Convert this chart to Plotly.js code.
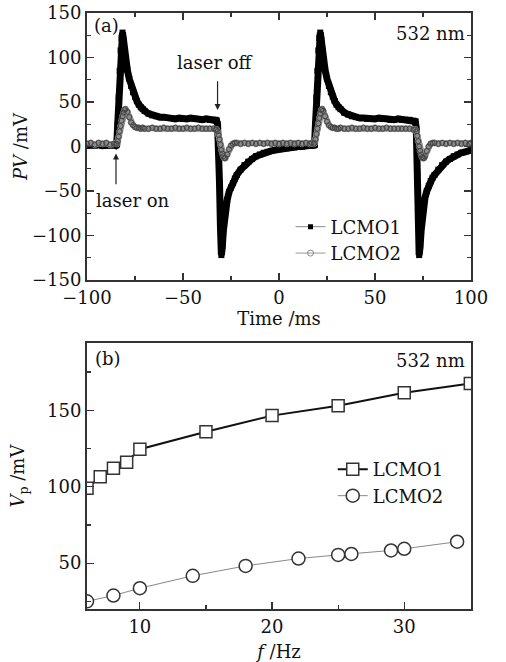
<!DOCTYPE html>
<html>
<head>
<meta charset="utf-8">
<script src="https://cdn.plot.ly/plotly-3.0.1.min.js"></script>
<style>html,body{margin:0;padding:0;background:#fff;}#chart{width:506px;height:662px;}</style>
</head>
<body>
<div id="chart"></div>
<script>
// ---------- Panel (a): photovoltage vs time ----------
const timeMs = [
-100,-98,-96,-94,-92,-90,-88,-86,-85,-84.5,
-84,-83.5,-83,-82.5,-82,-81.5,-81,-80.5,-80,-79,
-78,-77,-76,-75,-74,-73,-72,-71,-70,-68,
-66,-64,-62,-60,-58,-56,-54,-52,-50,-48,
-46,-44,-42,-40,-38,-36,-34,-33,-32.5,-32,
-31.5,-31,-30.5,-30,-29.5,-29,-28.5,-28,-27,-26,
-25,-24,-23,-22,-20,-18,-16,-14,-12,-10,
-8,-6,-4,-2,0,2,4,6,8,10,
12,14,16,17,18,18.5,19,19.5,20,20.5,
21,21.5,22,22.5,23,24,25,26,27,28,
29,30,31,32,34,36,38,40,42,44,
46,48,50,52,54,56,58,60,62,64,
66,68,70,71,71.5,72,72.5,73,73.5,74,
74.5,75,75.5,76,77,78,79,80,81,83,
85,87,89,91,93,95,97,99,100
];
const pvLCMO1 = [
1,2,1,2,1,2,1,2,1,2,
25,55,85,108,122,128,120,108,98,86,
76,68,61,56,51,47,44,42,40,37,
35,34,33,33,32,32,31,32,31,31,
32,31,31,30,31,30,30,30,29,25,
5,-40,-90,-122,-112,-95,-82,-72,-60,-51,
-46,-41,-36,-32,-26,-21,-17,-14,-11,-9,
-7,-6,-5,-4,-3,-2,-2,-1,-1,0,
0,1,1,1,1,2,25,55,85,108,
122,128,120,108,98,86,76,68,61,56,
51,47,44,42,38,36,34,33,32,32,
31,31,31,32,31,31,30,30,31,30,
30,30,29,28,20,-30,-85,-122,-112,-95,
-82,-72,-64,-58,-50,-44,-39,-35,-32,-26,
-21,-17,-14,-11,-9,-7,-6,-5,-4
];
const pvLCMO2 = [
3,4,2,4,3,4,2,3,3,3,
6,11,17,23,29,34,38,41,42,39,
33,27,24,22,21,21,20,21,20,20,
21,20,20,21,20,20,21,20,20,21,
20,20,21,20,20,20,20,19,19,17,
13,8,2,-4,-8,-11,-13,-13,-9,-3,
1,3,4,4,3,4,3,4,3,4,
3,4,3,4,3,4,3,4,3,4,
3,4,3,4,3,4,8,14,20,26,
32,37,41,42,40,34,28,24,22,21,
21,20,20,21,20,20,21,20,20,21,
20,20,21,20,20,21,20,20,20,20,
20,20,19,19,17,12,6,0,-5,-9,
-12,-13,-13,-11,-5,0,3,4,4,3,
4,3,4,3,4,3,4,3,4
];

// ---------- Panel (b): peak voltage vs frequency ----------
const freqLCMO1 = [6,7,8,9,10,15,20,25,30,35];
const vpLCMO1   = [99,106.5,112,116,124.5,136,146.5,153,161.5,167.5];
const freqLCMO2 = [6,8,10,14,18,22,25,26,29,30,34];
const vpLCMO2   = [25,28.8,33.6,41.7,48.2,53,55.4,56,58.3,59.4,64];

const seriesNames = ['LCMO1','LCMO2'];
const panelLabels = ['(a)','(b)'];
const wavelengthLabel = '532 nm';

const FONT = '"DejaVu Serif", serif';
const txt = {family: FONT, size: 18, color: '#111'};

const traces = [
  {x: timeMs, y: pvLCMO1, mode: 'lines+markers', name: seriesNames[0], xaxis: 'x', yaxis: 'y',
   line: {color: '#888', width: 1}, marker: {symbol: 'square', size: 5, color: '#000'},
   legend: 'legend'},
  {x: timeMs, y: pvLCMO1, mode: 'lines+markers', showlegend: false, xaxis: 'x', yaxis: 'y',
   line: {color: '#000', width: 7}, marker: {symbol: 'square', size: 6, color: '#000'}},
  {x: timeMs, y: pvLCMO2, mode: 'lines+markers', name: seriesNames[1], xaxis: 'x', yaxis: 'y',
   line: {color: '#999', width: 1}, marker: {symbol: 'circle-open', size: 6, color: '#888', line: {width: 1}},
   legend: 'legend'},
  {x: timeMs, y: pvLCMO2, mode: 'lines+markers', showlegend: false, xaxis: 'x', yaxis: 'y',
   line: {color: '#8e8e8e', width: 6}, marker: {symbol: 'circle-open', size: 5, color: '#444', line: {width: 1}}},
  {x: freqLCMO1, y: vpLCMO1, mode: 'lines+markers', name: seriesNames[0], xaxis: 'x2', yaxis: 'y2',
   line: {color: '#111', width: 2}, legend: 'legend2',
   marker: {symbol: 'square', size: 12, color: '#fff', line: {color: '#333', width: 1.5}}},
  {x: freqLCMO2, y: vpLCMO2, mode: 'lines+markers', name: seriesNames[1], xaxis: 'x2', yaxis: 'y2',
   line: {color: '#888', width: 1}, legend: 'legend2',
   marker: {symbol: 'circle', size: 13, color: '#fff', line: {color: '#333', width: 1.5}}}
];

const axBase = {
  showgrid: false, zeroline: false, showline: true, linecolor: '#333', linewidth: 2,
  ticks: 'inside', ticklen: 7, tickwidth: 1.2, tickcolor: '#333',
  tickfont: txt, automargin: false
};

const layout = {
  width: 506, height: 662,
  margin: {l: 87, r: 35, t: 13, b: 53},
  paper_bgcolor: '#fff', plot_bgcolor: '#fff',
  font: txt,
  xaxis: Object.assign({}, axBase, {
    domain: [0, 1], anchor: 'y', range: [-100, 100], tickvals: [-100, -50, 0, 50, 100],
    mirror: 'ticks', minor: {ticks: 'inside', dtick: 25, ticklen: 4, tickcolor: '#333'},
    title: {text: 'Time /ms', font: txt, standoff: 0}
  }),
  yaxis: Object.assign({}, axBase, {
    domain: [0.552, 1], anchor: 'x', range: [-150, 150], tickvals: [-150, -100, -50, 0, 50, 100, 150],
    mirror: 'ticks', minor: {ticks: 'inside', dtick: 25, ticklen: 4, tickcolor: '#333'},
    title: {text: '<i>PV</i> /mV', font: txt, standoff: 0}
  }),
  xaxis2: Object.assign({}, axBase, {
    domain: [0, 1], anchor: 'y2', range: [6, 35.05], tickvals: [10, 20, 30],
    mirror: true, minor: {ticks: 'inside', dtick: 5, ticklen: 4, tickcolor: '#333'},
    title: {text: '<i>f</i> /Hz', font: txt, standoff: 11}
  }),
  yaxis2: Object.assign({}, axBase, {
    domain: [0, 0.4463], anchor: 'x2', range: [20, 194], tickvals: [50, 100, 150],
    mirror: true, minor: {ticks: 'inside', dtick: 25, ticklen: 4, tickcolor: '#333'},
    title: {text: '<i>V</i><sub>p</sub> /mV', font: txt, standoff: 18}
  }),
  legend: {x: 0.53, y: 0.672, xanchor: 'left', yanchor: 'top', bgcolor: 'rgba(0,0,0,0)',
           font: txt, tracegroupgap: 0, itemwidth: 30},
  legend2: {x: 0.64, y: 0.265, xanchor: 'left', yanchor: 'top', bgcolor: 'rgba(0,0,0,0)',
            font: txt, tracegroupgap: 0, itemwidth: 30},
  showlegend: true,
  annotations: [
    {xref: 'x domain', yref: 'y domain', x: 0.012, y: 0.955, xanchor: 'left', yanchor: 'middle',
     text: panelLabels[0], showarrow: false, font: txt},
    {xref: 'x domain', yref: 'y domain', x: 0.99, y: 0.924, xanchor: 'right', yanchor: 'middle',
     text: wavelengthLabel, showarrow: false, font: txt},
    {xref: 'x2 domain', yref: 'y2 domain', x: 0.016, y: 0.942, xanchor: 'left', yanchor: 'middle',
     text: panelLabels[1], showarrow: false, font: txt},
    {xref: 'x2 domain', yref: 'y2 domain', x: 0.99, y: 0.933, xanchor: 'right', yanchor: 'middle',
     text: wavelengthLabel, showarrow: false, font: txt},
    {xref: 'x', yref: 'y', x: -33.3, y: 94, text: 'laser off', showarrow: false, font: txt},
    {xref: 'x', yref: 'y', x: -32, y: 41, axref: 'x', ayref: 'y', ax: -32, ay: 75, text: '',
     showarrow: true, arrowhead: 2, arrowsize: 1, arrowwidth: 1.2, arrowcolor: '#222'},
    {xref: 'x', yref: 'y', x: -75.9, y: -61, text: 'laser on', showarrow: false, font: txt},
    {xref: 'x', yref: 'y', x: -84.9, y: -8, axref: 'x', ayref: 'y', ax: -84.9, ay: -44, text: '',
     showarrow: true, arrowhead: 2, arrowsize: 1, arrowwidth: 1.2, arrowcolor: '#222'}
  ]
};

Plotly.newPlot('chart', traces, layout, {staticPlot: true, displayModeBar: false});
</script>
</body>
</html>
